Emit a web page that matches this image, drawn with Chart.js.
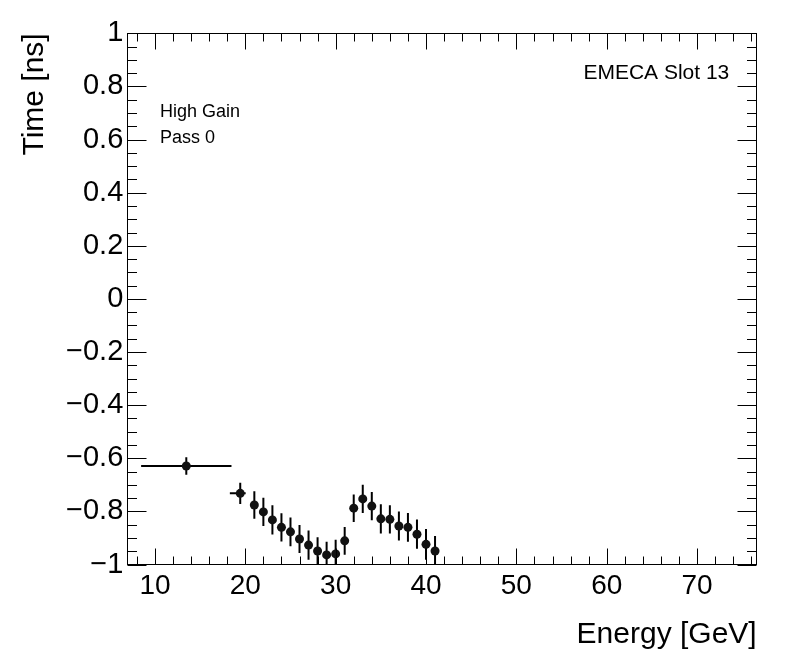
<!DOCTYPE html>
<html><head><meta charset="utf-8">
<script src="https://cdn.jsdelivr.net/npm/chart.js@4.4.1/dist/chart.umd.min.js"></script>
<style>html,body{margin:0;padding:0;background:#fff;overflow:hidden}#wrap{width:796px;height:672px}</style>
</head><body><div id="wrap"><canvas id="c" width="796" height="672"></canvas></div>
<script>
// ---- data ----
const energy        = [13.47, 19.44, 21, 22, 23, 24, 25, 26, 27, 28, 29, 30, 31, 32, 33, 34, 35, 36, 37, 38, 39, 40, 41];
const energyErrLow  = [5.0, 1.15, 0, 0, 0, 0, 0, 0, 0, 0, 0, 0, 0, 0, 0, 0, 0, 0, 0, 0, 0, 0, 0];
const energyErrHigh = [5.0, 0.6, 0, 0, 0, 0, 0, 0, 0, 0, 0, 0, 0, 0, 0, 0, 0, 0, 0, 0, 0, 0, 0];
const timeNs    = [-0.629, -0.732, -0.776, -0.802, -0.832, -0.860, -0.877, -0.904, -0.927, -0.949, -0.964, -0.960, -0.911,
                   -0.788, -0.753, -0.780, -0.828, -0.830, -0.855, -0.860, -0.886, -0.924, -0.949];
const timeErr   = [0.033, 0.040, 0.052, 0.053, 0.055, 0.053, 0.054, 0.053, 0.055, 0.052, 0.050, 0.053, 0.052,
                   0.052, 0.053, 0.053, 0.055, 0.053, 0.055, 0.054, 0.055, 0.058, 0.056];
const xTickValues = [10, 20, 30, 40, 50, 60, 70];
const xTickLabels = ['10', '20', '30', '40', '50', '60', '70'];
const yTickValues = [-1, -0.8, -0.6, -0.4, -0.2, 0, 0.2, 0.4, 0.6, 0.8, 1];
const yTickLabels = ['\u22121', '\u22120.8', '\u22120.6', '\u22120.4', '\u22120.2', '0', '0.2', '0.4', '0.6', '0.8', '1'];
const xMin = 6.94, xMax = 76.6, yMin = -1, yMax = 1;
const xTitle = 'Energy [GeV]';
const yTitle = 'Time [ns]';
const labelTop = 'EMECA Slot 13';
const labelGain = 'High Gain';
const labelPass = 'Pass 0';

const FONT = "'Liberation Sans', Arial, Helvetica, sans-serif";
const AREA = {left: 127.3, right: 756.7, top: 33.3, bottom: 564.5};

const errorBars = {
  id: 'errorBars',
  beforeDatasetsDraw(chart) {
    const {ctx, chartArea: a, scales: {x, y}} = chart;
    ctx.save();
    ctx.beginPath();
    ctx.rect(a.left, a.top, a.right - a.left, a.bottom - a.top);
    ctx.clip();
    ctx.strokeStyle = '#000';
    ctx.lineWidth = 2;
    energy.forEach((e, i) => {
      const px = x.getPixelForValue(e), py = y.getPixelForValue(timeNs[i]);
      ctx.beginPath();
      ctx.moveTo(px, y.getPixelForValue(timeNs[i] - timeErr[i]));
      ctx.lineTo(px, y.getPixelForValue(timeNs[i] + timeErr[i]));
      if (energyErrLow[i] > 0 || energyErrHigh[i] > 0) {
        ctx.moveTo(x.getPixelForValue(e - energyErrLow[i]), py);
        ctx.lineTo(x.getPixelForValue(e + energyErrHigh[i]), py);
      }
      ctx.stroke();
    });
    ctx.restore();
  }
};

const frame = {
  id: 'frame',
  afterDraw(chart) {
    const {ctx, chartArea: a, scales: {x, y}} = chart;
    const L = Math.round(a.left) + 0.5, R = Math.round(a.right) - 0.5;
    const T = Math.round(a.top) + 0.5, B = Math.round(a.bottom) - 0.5;
    ctx.save();
    ctx.strokeStyle = '#000';
    ctx.lineWidth = 1;
    ctx.strokeRect(L, T, R - L, B - T);
    ctx.beginPath();
    for (let v = 8; v <= xMax; v += 2) {
      const px = Math.round(x.getPixelForValue(v)) + 0.5;
      const len = (v % 10 === 0) ? 16 : 8;
      ctx.moveTo(px, B); ctx.lineTo(px, B - len);
      ctx.moveTo(px, T); ctx.lineTo(px, T + len);
    }
    for (let k = -20; k <= 20; k++) {
      const py = Math.round(y.getPixelForValue(k * 0.05)) + 0.5;
      const len = (k % 4 === 0) ? 19 : 9.5;
      ctx.moveTo(L, py); ctx.lineTo(L + len, py);
      ctx.moveTo(R, py); ctx.lineTo(R - len, py);
    }
    ctx.stroke();
    ctx.fillStyle = '#000';
    ctx.textBaseline = 'alphabetic';
    ctx.font = '21px ' + FONT;
    ctx.textAlign = 'right';
    ctx.fillText(labelTop, 729.3, 79.3);
    ctx.font = '18px ' + FONT;
    ctx.textAlign = 'left';
    ctx.fillText(labelGain, 160, 117);
    ctx.fillText(labelPass, 160, 143);
    ctx.restore();
  }
};

new Chart(document.getElementById('c'), {
  type: 'scatter',
  data: {
    datasets: [{
      data: energy.map((e, i) => ({x: e, y: timeNs[i]})),
      pointRadius: 4.5,
      pointBackgroundColor: '#111',
      pointBorderColor: '#111',
      pointBorderWidth: 0,
      showLine: false
    }]
  },
  options: {
    responsive: false,
    devicePixelRatio: 1,
    animation: false,
    events: [],
    layout: {padding: {left: 0, top: AREA.top, right: 796 - AREA.right, bottom: 0}},
    plugins: {legend: {display: false}, tooltip: {enabled: false}},
    scales: {
      x: {
        type: 'linear', min: xMin, max: xMax,
        afterFit(s) { s.height = 672 - AREA.bottom; },
        afterBuildTicks(s) { s.ticks = xTickValues.map(v => ({value: v})); },
        grid: {display: false, drawTicks: false},
        border: {display: false},
        ticks: {autoSkip: false, maxRotation: 0, minRotation: 0, padding: 5, color: '#000',
                font: {family: FONT, size: 28},
                callback: (v, i) => xTickLabels[i]},
        title: {display: true, text: xTitle, align: 'end', color: '#000',
                font: {family: FONT, size: 30}, padding: {top: 0, bottom: 19}}
      },
      y: {
        type: 'linear', min: yMin, max: yMax,
        afterFit(s) { s.width = AREA.left; },
        afterBuildTicks(s) { s.ticks = yTickValues.map(v => ({value: v})); },
        grid: {display: false, drawTicks: false},
        border: {display: false},
        ticks: {autoSkip: false, padding: 4, color: '#000',
                font: {family: FONT, size: 29},
                callback: (v, i) => yTickLabels[i]},
        title: {display: true, text: yTitle, align: 'end', color: '#000',
                font: {family: FONT, size: 30}, padding: {top: 16.6, bottom: 0}}
      }
    }
  },
  plugins: [errorBars, frame]
});
</script>
</body></html>
